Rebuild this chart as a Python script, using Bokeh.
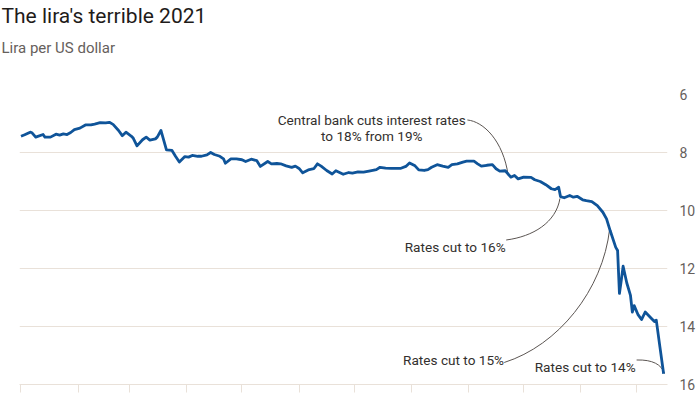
import pandas as pd
from bokeh.plotting import figure
from bokeh.models import (Range1d, FixedTicker, Title, ColumnDataSource,
                          CustomJSTickFormatter, LinearAxis)
from bokeh.core.properties import value
from bokeh.embed import file_html
from bokeh.resources import INLINE

# ---------------- data ----------------
dates = [
    "2021-01-01", "2021-01-03", "2021-01-06", "2021-01-07", "2021-01-09", "2021-01-13",
    "2021-01-14", "2021-01-17", "2021-01-20", "2021-01-22", "2021-01-24", "2021-01-26",
    "2021-01-28", "2021-01-30", "2021-02-02", "2021-02-05", "2021-02-08", "2021-02-10",
    "2021-02-13", "2021-02-16", "2021-02-18", "2021-02-20", "2021-02-23", "2021-02-25",
    "2021-02-27", "2021-03-02", "2021-03-03", "2021-03-05", "2021-03-08", "2021-03-10",
    "2021-03-12", "2021-03-15", "2021-03-16", "2021-03-18", "2021-03-21", "2021-03-24",
    "2021-03-26", "2021-03-28", "2021-03-31", "2021-04-02", "2021-04-04", "2021-04-07",
    "2021-04-09", "2021-04-12", "2021-04-14", "2021-04-16", "2021-04-19", "2021-04-21",
    "2021-04-22", "2021-04-25", "2021-04-28", "2021-05-01", "2021-05-03", "2021-05-06",
    "2021-05-09", "2021-05-11", "2021-05-15", "2021-05-17", "2021-05-20", "2021-05-22",
    "2021-05-25", "2021-05-28", "2021-05-30", "2021-06-01", "2021-06-03", "2021-06-06",
    "2021-06-09", "2021-06-11", "2021-06-13", "2021-06-16", "2021-06-19", "2021-06-21",
    "2021-06-23", "2021-06-25", "2021-06-28", "2021-06-30", "2021-07-03", "2021-07-06",
    "2021-07-09", "2021-07-13", "2021-07-15", "2021-07-18", "2021-07-21", "2021-07-26",
    "2021-07-29", "2021-07-31", "2021-08-03", "2021-08-05", "2021-08-08", "2021-08-10",
    "2021-08-12", "2021-08-15", "2021-08-18", "2021-08-21", "2021-08-23", "2021-08-26",
    "2021-08-29", "2021-08-31", "2021-09-04", "2021-09-06", "2021-09-08", "2021-09-11",
    "2021-09-14", "2021-09-16", "2021-09-18", "2021-09-21", "2021-09-24", "2021-09-26",
    "2021-09-28", "2021-10-01", "2021-10-05", "2021-10-07", "2021-10-10", "2021-10-13",
    "2021-10-16", "2021-10-18", "2021-10-20", "2021-10-21", "2021-10-23", "2021-10-26",
    "2021-10-28", "2021-10-30", "2021-11-02", "2021-11-04", "2021-11-07", "2021-11-10",
    "2021-11-13", "2021-11-15", "2021-11-17", "2021-11-20", "2021-11-21", "2021-11-22",
    "2021-11-23", "2021-11-24", "2021-11-26", "2021-11-28", "2021-11-29", "2021-11-30",
    "2021-12-02", "2021-12-04", "2021-12-06", "2021-12-09", "2021-12-11", "2021-12-12",
    "2021-12-14", "2021-12-16",
]
lira = [
    7.44, 7.39, 7.30, 7.32, 7.47, 7.38,
    7.47, 7.47, 7.37, 7.40, 7.36, 7.38,
    7.31, 7.21, 7.16, 7.05, 7.05, 7.02,
    6.97, 6.98, 6.96, 7.03, 7.24, 7.42,
    7.30, 7.44, 7.51, 7.77, 7.56, 7.47,
    7.57, 7.53, 7.47, 7.24, 7.91, 7.93,
    8.14, 8.33, 8.14, 8.16, 8.10, 8.13,
    8.13, 8.08, 8.00, 8.07, 8.13, 8.22,
    8.37, 8.22, 8.22, 8.25, 8.31, 8.23,
    8.28, 8.48, 8.31, 8.39, 8.38, 8.39,
    8.46, 8.51, 8.47, 8.55, 8.70, 8.60,
    8.56, 8.39, 8.47, 8.62, 8.74, 8.63,
    8.69, 8.75, 8.69, 8.71, 8.67, 8.68,
    8.64, 8.59, 8.51, 8.54, 8.55, 8.55,
    8.48, 8.36, 8.46, 8.60, 8.62, 8.59,
    8.51, 8.42, 8.47, 8.51, 8.42, 8.39,
    8.33, 8.30, 8.30, 8.39, 8.47, 8.44,
    8.42, 8.56, 8.64, 8.63, 8.85, 8.79,
    8.91, 8.85, 8.86, 8.94, 9.00, 9.11,
    9.25, 9.28, 9.20, 9.52, 9.56, 9.48,
    9.54, 9.51, 9.63, 9.66, 9.69, 9.83,
    10.06, 10.29, 10.70, 11.27, 11.38, 12.86,
    12.41, 11.92, 12.50, 12.93, 13.50, 13.28,
    13.58, 13.76, 13.50, 13.70, 13.83, 13.78,
    14.71, 15.63,
]

y_ticks = [6, 8, 10, 12, 14, 16]
month_ticks = ["2021-01-01", "2021-02-01", "2021-03-01", "2021-04-01", "2021-05-01",
               "2021-06-01", "2021-07-01", "2021-08-01", "2021-09-01", "2021-10-01",
               "2021-11-01", "2021-12-01"]

title_text = "The lira's terrible 2021"
subtitle_text = "Lira per US dollar"

# annotations (positions as days after 1 Jan 2021, values in lira)
ann_text = ["Central bank cuts interest rates", "to 18% from 19%",
            "Rates cut to 16%", "Rates cut to 15%", "Rates cut to 14%"]
ann_day = [190.5, 190.5, 208.4, 207.5, 279.0]
ann_val = [6.872, 7.414, 11.26, 15.17, 15.40]
ann_align = ["center", "center", "left", "left", "left"]

lead_day0 = [242.43, 263.51, 262.43, 334.32]
lead_val0 = [6.879, 11.017, 15.241, 15.155]
lead_dayc0 = [251.08, 278.11, 291.62, 342.97]
lead_valc0 = [6.931, 10.897, 14.655, 15.138]
lead_dayc1 = [261.89, 290.54, 315.95, 347.84]
lead_valc1 = [7.586, 10.414, 12.759, 15.310]
lead_day1 = [264.59, 292.70, 319.73, 349.46]
lead_val1 = [8.793, 9.586, 10.621, 15.621]

x_start_day, x_end_day = -0.81, 351.1
y_min, y_max = 6, 16

# ---------------- styling ----------------
FONT = "Roboto"
BLUE = "#0f5499"
GRID = "#e9e1d9"
GREY = "#66605c"
TEXT = "#33302e"

base = pd.Timestamp("2021-01-01")
def to_dt(days):
    return [base + pd.Timedelta(days=d) for d in days]

p = figure(
    width=698, height=393,
    x_axis_type="datetime", y_axis_location="right",
    x_range=Range1d(start=to_dt([x_start_day])[0], end=to_dt([x_end_day])[0]),
    y_range=Range1d(start=y_max, end=y_min),
    output_backend="svg", toolbar_location=None,
    min_border_left=19, min_border_right=28, min_border_top=94, min_border_bottom=9,
)
p.outline_line_color = None
p.background_fill_color = "white"
p.border_fill_color = "white"

# y axis (right)
p.yaxis.ticker = FixedTicker(ticks=y_ticks)
p.yaxis.axis_line_color = None
p.yaxis.major_tick_line_color = None
p.yaxis.minor_tick_line_color = None
p.yaxis.major_label_standoff = 6
p.yaxis.major_label_text_font = FONT
p.yaxis.major_label_text_font_size = "14px"
p.yaxis.major_label_text_color = GREY
p.ygrid.ticker = FixedTicker(ticks=y_ticks)
p.ygrid.grid_line_color = GRID
p.ygrid.grid_line_width = 1

# x axis (bottom, ticks only)
month_ms = [pd.Timestamp(m).value / 1e6 for m in month_ticks]
p.xaxis.ticker = FixedTicker(ticks=month_ms)
p.xaxis.formatter = CustomJSTickFormatter(code="return ''")
p.xaxis.axis_line_color = GRID
p.xaxis.major_tick_line_color = GRID
p.xaxis.major_tick_in = 0
p.xaxis.major_tick_out = 8
p.xaxis.minor_tick_line_color = None
p.xaxis.major_label_standoff = 0
p.xgrid.visible = False

# leader lines
lead_src = ColumnDataSource(dict(
    x0=to_dt(lead_day0), y0=lead_val0,
    cx0=to_dt(lead_dayc0), cy0=lead_valc0,
    cx1=to_dt(lead_dayc1), cy1=lead_valc1,
    x1=to_dt(lead_day1), y1=lead_val1,
))
p.bezier(x0="x0", y0="y0", x1="x1", y1="y1", cx0="cx0", cy0="cy0", cx1="cx1", cy1="cy1",
         source=lead_src, line_color="#5b5552", line_width=1)

# main line
src = ColumnDataSource(dict(date=pd.to_datetime(dates), lira=lira))
p.line("date", "lira", source=src, line_color=BLUE, line_width=2.8, line_join="round")

# annotation texts
ann_src = ColumnDataSource(dict(x=to_dt(ann_day), y=ann_val, text=ann_text, align=ann_align))
p.text(x="x", y="y", text="text", source=ann_src, text_align="align",
       text_baseline="alphabetic", text_font=value(FONT), text_font_size=value("13.6px"),
       text_color=TEXT)

# header: a blank spacer strip next to the plot, then subtitle, then title
spacer = LinearAxis(ticker=FixedTicker(ticks=month_ms[:1]),
                    formatter=CustomJSTickFormatter(code="return ''"),
                    axis_line_color=None,
                    major_tick_in=0, major_tick_out=28, minor_tick_in=0, minor_tick_out=0,
                    major_tick_line_color="white", minor_tick_line_color=None,
                    major_label_standoff=0)
p.add_layout(spacer, "above")
p.add_layout(Title(text=subtitle_text, align="left", offset=-18, standoff=19,
                   text_font=FONT, text_font_size="15px", text_font_style="normal",
                   text_color=GREY), "above")
p.add_layout(Title(text=title_text, align="left", offset=-18, standoff=0,
                   text_font=FONT, text_font_size="21px", text_font_style="normal",
                   text_color="#1f1c1a"), "above")

open("out.html", "w").write(file_html(p, INLINE))
